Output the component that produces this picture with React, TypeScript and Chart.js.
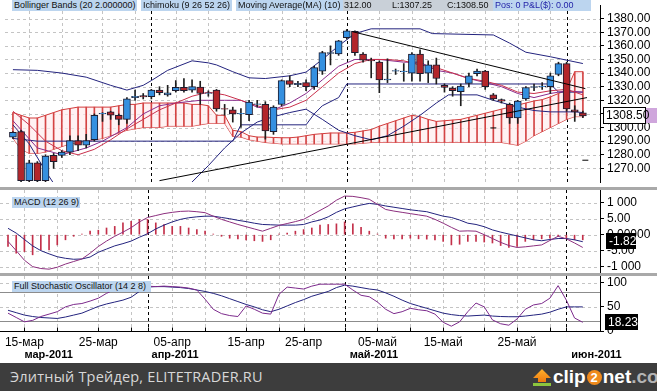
import React, { useEffect, useRef } from 'react';
import { Chart, registerables } from 'chart.js';

Chart.register(...registerables);

const FONT = '"Liberation Sans", Arial, sans-serif';
const CW = 657;
const AXIS_W = 57;
const X_MIN = -0.974;
const X_MAX = 72.1;

// ---------- data ----------
const dates = [
  '2011-03-13', '2011-03-14', '2011-03-15', '2011-03-16', '2011-03-17', '2011-03-18', '2011-03-20', '2011-03-21',
  '2011-03-22', '2011-03-23', '2011-03-24', '2011-03-25', '2011-03-27', '2011-03-28', '2011-03-29', '2011-03-30',
  '2011-03-31', '2011-04-01', '2011-04-03', '2011-04-04', '2011-04-05', '2011-04-06', '2011-04-07', '2011-04-08',
  '2011-04-10', '2011-04-11', '2011-04-12', '2011-04-13', '2011-04-14', '2011-04-15', '2011-04-17', '2011-04-18',
  '2011-04-19', '2011-04-20', '2011-04-21', '2011-04-24', '2011-04-25', '2011-04-26', '2011-04-27', '2011-04-28',
  '2011-04-29', '2011-05-01', '2011-05-02', '2011-05-03', '2011-05-04', '2011-05-05', '2011-05-06', '2011-05-08',
  '2011-05-09', '2011-05-10', '2011-05-11', '2011-05-12', '2011-05-13', '2011-05-15', '2011-05-16', '2011-05-17',
  '2011-05-18', '2011-05-19', '2011-05-20', '2011-05-22', '2011-05-23', '2011-05-24', '2011-05-25', '2011-05-26',
  '2011-05-27', '2011-05-29', '2011-05-30', '2011-05-31', '2011-06-01', '2011-06-02', '2011-06-03',
];

const opens = [1293, 1297, 1261, 1274, 1261, 1279.5, 1279.5, 1282, 1290.5, 1287, 1291, 1310, 1311.5, 1309, 1306, 1322, 1323.5, 1322.6, 1327.5, 1324, 1327, 1329.6, 1327.5, 1329.8, 1325, 1327.5, 1314, 1313, 1310, 1309.4, 1317, 1317, 1297, 1317, 1334.5, 1331.5, 1333, 1330, 1341.4, 1354.5, 1354, 1366, 1370.6, 1354, 1349.5, 1348, 1335, 1341.4, 1341, 1340, 1354, 1340, 1346, 1331, 1329, 1326.3, 1332.4, 1339.5, 1341.4, 1324, 1320.5, 1317, 1307, 1321, 1329.5, 1330, 1330, 1339, 1347, 1313, 1310.8];
const highs = [1297, 1298, 1276, 1275, 1280, 1281, 1283, 1294, 1294, 1295, 1310, 1311, 1312, 1310, 1322, 1327.5, 1325, 1328, 1330, 1331, 1334.5, 1336, 1335, 1334, 1327, 1328, 1317, 1315, 1314, 1320, 1320, 1319, 1316, 1335, 1338, 1334, 1335, 1345, 1356, 1360, 1364, 1372, 1371, 1355, 1351, 1349, 1350.5, 1343, 1347, 1355, 1357, 1349, 1351, 1332, 1330, 1332, 1340, 1343, 1342, 1325, 1321, 1318, 1320, 1330, 1332, 1333, 1340, 1348, 1348, 1316, 1312];
const lows = [1292, 1256, 1256, 1256, 1258, 1270, 1278, 1280, 1283, 1285, 1290, 1304.5, 1306, 1302, 1303, 1320, 1321, 1321, 1324, 1323, 1326, 1326, 1326, 1317, 1323, 1312, 1309, 1304, 1300, 1305, 1315, 1291.5, 1295, 1316, 1330, 1330, 1327, 1328, 1339, 1346, 1353, 1365, 1353, 1348, 1336.5, 1325.6, 1333, 1339, 1334, 1334, 1334, 1333, 1332, 1326, 1323, 1316, 1330, 1338, 1328, 1320, 1318, 1303, 1303, 1320, 1327, 1328, 1325, 1338, 1312, 1304.5, 1307.25];
const closes = [1296.5, 1261, 1274, 1261, 1279, 1275, 1282, 1290.5, 1287, 1290.5, 1309, 1310.5, 1309, 1306, 1321, 1323, 1322.5, 1327.5, 1325.6, 1325.5, 1329.6, 1327, 1330, 1325, 1325.5, 1313.6, 1313.5, 1310, 1310.5, 1318.7, 1317.5, 1297.6, 1315, 1334.5, 1331.7, 1332.5, 1330, 1344, 1355, 1355, 1363.6, 1371, 1355, 1349.5, 1349, 1335, 1335.5, 1341.9, 1341.5, 1354, 1339.5, 1346, 1336, 1329.4, 1327, 1330.5, 1338, 1341.4, 1330, 1321, 1319.4, 1307, 1319.4, 1329.4, 1330, 1330.5, 1338, 1347, 1313.6, 1311.5, 1308.5];

// Ichimoku cloud (Senkou spans), one value per bar
const spanA = [1311, 1309, 1307, 1307, 1309, 1311, 1313, 1314, 1315, 1315, 1315, 1315, 1315, 1316, 1317, 1317, 1318, 1318, 1318, 1318, 1318, 1318, 1317, 1317, 1316, 1309, 1309, 1298, 1297,
  1294, 1293, 1293, 1292.7, 1292.5, 1292.5, 1293, 1294, 1295, 1295.5, 1296, 1296, 1296, 1296.5, 1297.5, 1298.5, 1301, 1303, 1305, 1307, 1309, 1308, 1306, 1304.5, 1305, 1305.5, 1306, 1307.5, 1309, 1310.5, 1312, 1313.5, 1315, 1316.5, 1318, 1319.5, 1320.5, 1322.5, 1325, 1327.5, 1341, 1341];
const spanB = [1292, 1284, 1281, 1281, 1282, 1284, 1286, 1288, 1289, 1290, 1291, 1292, 1294, 1296, 1298, 1299, 1300, 1300, 1300, 1301, 1301, 1301, 1301, 1302, 1303, 1303, 1303, 1293.5, 1293,
  1291, 1290, 1289, 1288.5, 1288, 1288, 1288, 1288, 1288, 1288, 1288, 1288, 1288, 1288, 1288.5, 1289, 1289, 1289, 1289, 1289, 1289, 1289, 1289, 1289, 1289, 1289, 1289, 1289, 1289, 1289, 1289, 1289, 1288, 1287, 1290, 1294, 1297, 1300, 1303, 1306, 1308, 1308];

// indicator lines read at [bar, value]
const bbUpper: [number, number][] = [[0, 1342.5], [3, 1342], [6, 1340], [9, 1337], [12, 1331], [14, 1327.5], [16, 1331], [17, 1334.5], [19, 1342], [22, 1349], [24, 1347.5], [25, 1346], [27, 1341], [29, 1336.5], [31, 1336], [34, 1338], [36, 1340.7], [38, 1350], [40, 1360], [42, 1369], [44, 1372.5], [50, 1372.5], [51.5, 1369], [59, 1368], [61, 1362], [63, 1355.3], [66, 1352], [70, 1347]];
const bbLower: [number, number][] = [[0, 1302], [2, 1288], [4, 1268], [6, 1250], [10, 1240], [16, 1240], [20, 1250], [22, 1260], [24, 1272], [26, 1285], [28, 1296], [30, 1304], [32, 1308], [34, 1311], [36, 1313.5], [38, 1306], [40, 1298], [42, 1294], [44, 1291], [46, 1294], [48, 1301], [50, 1309], [52, 1318], [53.5, 1324], [57, 1324], [59, 1320], [62, 1315], [64, 1312.5], [66, 1311.5], [69, 1311.5], [70, 1311]];
const ma10: [number, number][] = [[0, 1312], [2, 1302], [4, 1290], [6, 1283], [8, 1280], [10, 1284], [12, 1291], [14, 1299], [16, 1306], [18, 1313], [20, 1318], [22, 1323], [24, 1326], [26, 1324], [28, 1320], [30, 1316], [32, 1313], [34, 1315], [36, 1320], [38, 1330], [40, 1340], [42, 1347], [44, 1350], [46, 1350], [48, 1349], [50, 1346], [52, 1344], [54, 1340], [56, 1336], [58, 1334], [60, 1331], [62, 1326], [64, 1325], [66, 1327], [68, 1328], [70, 1324]];
const tenkan: [number, number][] = [[0, 1305], [3, 1285], [6, 1280], [9, 1285], [11, 1290], [14, 1300], [16, 1310], [18, 1316], [20, 1318], [23, 1320], [26, 1320], [28, 1320], [30, 1315], [32, 1313], [34, 1318], [36, 1325], [38, 1335], [40, 1345], [42, 1350], [45, 1350], [48, 1348], [50, 1348], [52, 1342], [54, 1340], [56, 1336], [58, 1333], [60, 1330], [62, 1325], [64, 1322], [66, 1325], [68, 1327], [70, 1326]];
const kijun: [number, number][] = [[0, 1292], [3, 1290], [27, 1290], [28, 1302], [36, 1302], [37, 1310], [38, 1316], [40, 1322], [41, 1332], [66, 1332], [67, 1326], [70, 1326]];
const trendUp: [number, number][] = [[18, 1261], [70.5, 1322]];
const trendDown: [number, number][] = [[41.7, 1370.4], [70.3, 1328.6]];
const markers: [number, number][] = [[59, 1299.7], [70.3, 1276]];

// MACD (12 26 9)
const macdHist = [-3.7, -5.8, -5.3, -6.3, -4.8, -4.8, -3.2, -1.6, -0.5, 0.2, 1.1, 1.4, 2.1, 2.6, 3.7, 4.2, 4.8, 4.8, 3.7, 3.2, 2.6, 2.6, 2.1, 1.6, 1.1, 0.2, -0.5, -1.1, -1.3, -1.6, -1.9, -2.1, -1.6, 0.2, 0.5, 1.1, 1.6, 2.1, 3.0, 3.2, 3.4, 4.0, 3.4, 2.3, 1.1, 0.2, -1.1, -1.3, -1.3, -1.1, -1.3, -1.4, -1.6, -2.1, -3.2, -3.0, -2.1, -2.1, -2.3, -2.6, -3.4, -4.0, -3.7, -2.1, -1.6, -1.3, -1.1, -0.5, -1.1, -1.6, -1.6];
const macdLine = [-2.1, -5, -8, -10, -10.6, -10.8, -10.2, -9.2, -8.4, -7.6, -5.8, -3.7, -2, -0.5, 0.8, 2.2, 4, 5.4, 6, 6.6, 7, 7.3, 7.4, 7.2, 6.9, 5.8, 4.8, 4, 3.2, 2.5, 1.8, 1.1, 2, 2.9, 3.5, 4.1, 4.8, 6.2, 7.6, 9.0, 10.8, 12.1, 12, 11.6, 11.1, 9.5, 7.9, 7.4, 7, 6.6, 6.2, 5.8, 4.8, 3.6, 2.3, 1.1, 1.2, 1.1, 0, -1.2, -2.4, -3.4, -4.0, -3.8, -3.5, -3.2, -1.8, -0.5, -1.3, -2.6, -4];
const macdSignal = [2.0, 0.5, -1.5, -3.5, -5, -6, -6.9, -7.4, -7.7, -7.6, -7, -5.5, -4.5, -3.5, -2.8, -2, -0.8, 0.3, 1.8, 3, 4, 4.8, 5.3, 5.6, 5.8, 5.8, 5.4, 5, 4.5, 4.1, 3.6, 3.2, 3.1, 3.0, 3.0, 3.0, 3.2, 4, 4.6, 5.6, 7, 8.1, 8.7, 9.3, 9.8, 9.5, 9.0, 8.6, 8.2, 7.8, 7.5, 7.2, 6.5, 5.8, 5.4, 4.6, 3.6, 3.2, 2.5, 1.5, 0.8, 0.2, -0.4, -1.0, -1.6, -1.9, -1.5, -1.2, -1.2, -1.6, -2.2];

// Full Stochastic (14 2 8)
const stochK = [37, 28, 19, 22, 30, 35, 40, 50, 55, 57, 62, 68, 78, 86, 92, 95, 96, 93, 92, 93, 92, 91, 89, 85, 66, 45, 36, 32, 30, 52, 45, 37, 35, 76, 91, 89, 87, 93, 97, 97, 97, 97, 85, 74, 71, 60, 45, 36, 40, 47, 44, 42, 35, 18, 10, 19, 40, 58, 50, 23, 15, 12, 25, 45, 54, 57, 68, 94, 64, 27, 18];
const stochD = [43, 38, 33, 30, 28, 27, 26, 29, 33, 37, 44, 51, 56, 60, 64, 70, 82, 91, 92, 92, 91, 90, 88, 85, 82, 78, 73, 67, 61, 55, 50, 44, 40, 45, 52, 59, 65, 72, 77, 82, 90, 95, 93, 90, 87, 85, 79, 72, 64, 57, 52, 47, 42, 37, 34, 32, 31, 32, 33, 31, 30, 29.6, 29.6, 31, 33, 35, 39, 45, 50, 50, 50];

const priceTicks = [1270, 1280, 1290, 1300, 1310, 1320, 1330, 1340, 1350, 1360, 1370, 1380];
const macdTicks = [10, 5, 0, -5, -10];
const macdTickLabels = ['1 000', '5.00', '0.00000', '-5.00', '-1 000'];
const stochTicks = [0, 50, 100];
const stochBands = [80, 20];
const RU_MONTHS = ['янв', 'фев', 'мар', 'апр', 'май', 'июн', 'июл', 'авг', 'сен', 'окт', 'ноя', 'дек'];
const monthLabels = [
  { bar: 2, text: 'мар-2011', dx: 0 },
  { bar: 17, text: 'апр-2011', dx: 4 },
  { bar: 41, text: 'май-2011', dx: 5 },
  { bar: 68, text: 'июн-2011', dx: 5 },
];
const lastPrice = 1308.5;
const lastMacd = -1.82;
const lastStoch = 18.23;

// ---------- helpers ----------
const day = (i: number) => Number(dates[i].slice(8, 10));
const month = (i: number) => Number(dates[i].slice(5, 7));
const idx = dates.map((_, i) => i);
const monthStarts = idx.filter((i) => i > 0 && month(i) !== month(i - 1));
const gridBars = idx.filter((i) => day(i) % 5 === 0 && !monthStarts.includes(i));
const labelBars = idx.filter((i) => [5, 15, 25].includes(day(i)));
const perBar = (arr: number[]) => arr.map((y, x) => ({ x, y }));
const sparse = (arr: [number, number][]) => arr.map(([x, y]) => ({ x, y }));

const BLUE = '#3590e0';
const RED = '#b3262b';
const NAVY = '#23237e';
const CLOUD = '#d23c3c';

function seg(ctx: any, x1: number, y1: number, x2: number, y2: number) {
  ctx.beginPath();
  ctx.moveTo(x1, y1);
  ctx.lineTo(x2, y2);
  ctx.stroke();
}

function gridPlugin(hDashed: number[], hSolid: number[]) {
  return {
    id: 'panelGrid',
    beforeDatasetsDraw(chart: any) {
      const { ctx, chartArea: a, scales } = chart;
      const xs = scales.x;
      const ys = scales.y;
      ctx.save();
      ctx.lineWidth = 1;
      ctx.setLineDash([3, 3]);
      ctx.strokeStyle = '#c4c4c4';
      hDashed.forEach((v) => {
        const y = Math.round(ys.getPixelForValue(v)) + 0.5;
        seg(ctx, a.left, y, a.right, y);
      });
      gridBars.forEach((i) => {
        const x = Math.round(xs.getPixelForValue(i)) + 0.5;
        seg(ctx, x, a.top, x, a.bottom);
      });
      ctx.setLineDash([]);
      ctx.strokeStyle = '#8c8c8c';
      hSolid.forEach((v) => {
        const y = Math.round(ys.getPixelForValue(v)) + 0.5;
        seg(ctx, a.left, y, a.right, y);
      });
      ctx.setLineDash([3, 3]);
      ctx.strokeStyle = '#000';
      monthStarts.forEach((i) => {
        const x = Math.round(xs.getPixelForValue(i)) + 0.5;
        seg(ctx, x, a.top, x, a.bottom);
      });
      ctx.restore();
    },
  };
}

function valueBoxPlugin(value: number, text: string, dark: boolean, x0: number, w: number, h: number, extra?: boolean) {
  return {
    id: 'valueBox',
    afterDraw(chart: any) {
      const { ctx, scales } = chart;
      const yc = scales.y.getPixelForValue(value);
      const top = Math.round(yc - h / 2);
      ctx.save();
      if (extra) {
        ctx.fillStyle = '#cfa6dc';
        ctx.fillRect(x0 + w, top + 1, CW - x0 - w, h - 2);
      }
      ctx.fillStyle = dark ? '#000' : '#fff';
      ctx.fillRect(x0, top, w, h);
      if (!dark) {
        ctx.strokeStyle = '#000';
        ctx.lineWidth = 1;
        ctx.strokeRect(x0 + 0.5, top + 0.5, w - 1, h - 1);
      }
      ctx.fillStyle = dark ? '#fff' : '#000';
      ctx.font = `12px ${FONT}`;
      ctx.textAlign = 'left';
      ctx.textBaseline = 'middle';
      ctx.fillText(text, x0 + 3, top + h / 2 + 0.5);
      ctx.restore();
    },
  };
}

const xAxisPlugin = {
  id: 'dateAxis',
  afterDraw(chart: any) {
    const { ctx, chartArea: a, scales } = chart;
    const xs = scales.x;
    ctx.save();
    ctx.strokeStyle = '#000';
    ctx.lineWidth = 1;
    const yb = Math.round(a.bottom) + 0.5;
    seg(ctx, a.left, yb, a.right, yb);
    [...gridBars, ...monthStarts].forEach((i) => {
      const px = Math.round(xs.getPixelForValue(i)) + 0.5;
      seg(ctx, px, yb - 4, px, yb);
    });
    ctx.fillStyle = '#000';
    ctx.font = `12px ${FONT}`;
    ctx.textAlign = 'center';
    ctx.textBaseline = 'middle';
    labelBars.forEach((i) => {
      const t = `${String(day(i)).padStart(2, '0')}-${RU_MONTHS[month(i) - 1]}`;
      ctx.fillText(t, xs.getPixelForValue(i), a.bottom + 12);
    });
    ctx.font = `bold 11px ${FONT}`;
    ctx.textAlign = 'left';
    monthLabels.forEach((m) => ctx.fillText(m.text, xs.getPixelForValue(m.bar) + m.dx, a.bottom + 24));
    ctx.restore();
  },
};

function xScale() {
  return { type: 'linear', min: X_MIN, max: X_MAX, display: false, offset: false };
}

function yScale(min: number, max: number, ticks: number[], fmt: (v: number, i: number) => string) {
  return {
    type: 'linear',
    position: 'right',
    min,
    max,
    afterBuildTicks: (s: any) => {
      s.ticks = ticks.map((v) => ({ value: v }));
    },
    afterFit: (s: any) => {
      s.width = AXIS_W;
      s.paddingTop = 0;
      s.paddingBottom = 0;
    },
    ticks: {
      callback: (v: any, i: number) => fmt(Number(v), i),
      font: { family: FONT, size: 12 },
      color: '#000',
      padding: 3,
      autoSkip: false,
    },
    grid: { drawOnChartArea: false, drawTicks: true, tickLength: 4, color: '#000' },
    border: { display: true, color: '#000', width: 1 },
  };
}

const baseOptions = {
  responsive: false,
  animation: false,
  events: [],
  layout: { padding: 0 },
  plugins: { legend: { display: false }, tooltip: { enabled: false }, title: { display: false } },
};

function line(data: any[], color: string, order: number, width = 1, extra: any = {}) {
  return { type: 'line', data, borderColor: color, borderWidth: width, pointRadius: 0, tension: 0, fill: false, order, ...extra };
}

function priceConfig(): any {
  const up = closes.map((c, i) => c >= opens[i]);
  return {
    type: 'bar',
    data: {
      datasets: [
        line(perBar(spanA), CLOUD, 20, 1, { fill: '+1', backgroundColor: 'rgba(255,236,238,0.7)' }),
        line(perBar(spanB), CLOUD, 20),
        { type: 'bar', data: spanA.map((a, i) => ({ x: i, y: [a, spanB[i]] })), barThickness: 1, backgroundColor: '#d44444', grouped: false, order: 19 },
        line(sparse(kijun), NAVY, 12),
        line(sparse(bbUpper), NAVY, 12),
        line(sparse(bbLower), NAVY, 12),
        line(sparse(ma10), '#c9304c', 11),
        line(sparse(tenkan), '#8a2c8c', 11),
        { type: 'bar', data: idx.map((i) => ({ x: i, y: [lows[i], highs[i]] })), barThickness: 1, backgroundColor: '#1e1e1e', grouped: false, order: 6 },
        {
          type: 'bar',
          data: idx.map((i) => ({ x: i, y: [Math.min(opens[i], closes[i]), Math.max(opens[i], closes[i])] })),
          barThickness: 7,
          backgroundColor: up.map((u) => (u ? BLUE : RED)),
          borderColor: '#1c1c30',
          borderWidth: 1,
          borderSkipped: false,
          grouped: false,
          order: 5,
        },
        line(sparse(trendUp), '#000', 2),
        line(sparse(trendDown), '#000', 2),
        { type: 'line', data: sparse(markers), showLine: false, pointStyle: 'line', pointRadius: 3, borderColor: '#000', borderWidth: 1, order: 1 },
      ],
    },
    options: {
      ...baseOptions,
      scales: {
        x: xScale(),
        y: yScale(1260, 1390, priceTicks, (v) => v.toFixed(2)),
      },
    },
    plugins: [gridPlugin(priceTicks, []), valueBoxPlugin(lastPrice, lastPrice.toFixed(2), false, 603, 43, 17, true)],
  };
}

function macdConfig(): any {
  return {
    type: 'bar',
    data: {
      datasets: [
        { type: 'bar', data: perBar(macdHist), barThickness: 1, backgroundColor: '#c3304a', grouped: false, order: 5 },
        line(perBar(macdSignal), NAVY, 3),
        line(perBar(macdLine), '#8c2f7e', 2),
      ],
    },
    options: {
      ...baseOptions,
      scales: {
        x: xScale(),
        y: yScale(-12, 14, macdTicks, (_v, i) => macdTickLabels[i]),
      },
    },
    plugins: [gridPlugin(macdTicks, []), valueBoxPlugin(lastMacd, lastMacd.toFixed(2), true, 606, 30, 16)],
  };
}

function stochConfig(): any {
  return {
    type: 'line',
    data: {
      datasets: [line(perBar(stochD), NAVY, 3), line(perBar(stochK), '#7c2a8c', 2)],
    },
    options: {
      ...baseOptions,
      layout: { padding: { bottom: 32 } },
      scales: {
        x: xScale(),
        y: yScale(0, 114, stochTicks, (v) => String(v)),
      },
    },
    plugins: [gridPlugin([50, 100], stochBands), valueBoxPlugin(lastStoch, lastStoch.toFixed(2), true, 605, 33, 16), xAxisPlugin],
  };
}

const tag = (left: number, top: number, text: string, bg: string, width: number, color = '#111') => (
  <div
    style={{
      position: 'absolute',
      left,
      top,
      width,
      height: 11,
      lineHeight: '11px',
      fontSize: 9,
      fontFamily: FONT,
      background: bg,
      color,
      padding: '0 0 0 2px',
      whiteSpace: 'nowrap',
      overflow: 'hidden',
      boxSizing: 'border-box',
    }}
  >
    {text}
  </div>
);

export default function App() {
  const r1 = useRef<HTMLCanvasElement>(null);
  const r2 = useRef<HTMLCanvasElement>(null);
  const r3 = useRef<HTMLCanvasElement>(null);

  useEffect(() => {
    document.body.style.margin = '0';
    const charts = [
      new Chart(r1.current as HTMLCanvasElement, priceConfig()),
      new Chart(r2.current as HTMLCanvasElement, macdConfig()),
      new Chart(r3.current as HTMLCanvasElement, stochConfig()),
    ];
    return () => charts.forEach((c) => c.destroy());
  }, []);

  const LB = '#bcd5ef';
  return (
    <div style={{ position: 'relative', width: CW, height: 391, overflow: 'hidden', background: '#fff', fontFamily: FONT }}>
      <style>{'body{margin:0}'}</style>
      <canvas ref={r1} width={CW} height={187} style={{ position: 'absolute', left: 0, top: 0 }} />
      <div style={{ position: 'absolute', left: 0, top: 187, width: CW, height: 3, background: '#a9a9a9' }} />
      <canvas ref={r2} width={CW} height={83} style={{ position: 'absolute', left: 0, top: 190 }} />
      <div style={{ position: 'absolute', left: 0, top: 273, width: CW, height: 3, background: '#a9a9a9' }} />
      <canvas ref={r3} width={CW} height={87} style={{ position: 'absolute', left: 0, top: 276 }} />

      {tag(12, 0, 'Bollinger Bands (20 2.000000)', LB, 125)}
      {tag(141, 0, 'Ichimoku (9 26 52 26)', LB, 91)}
      {tag(236, 0, 'Moving Average(MA) (10)', LB, 107)}
      <div
        style={{
          position: 'absolute', left: 343, top: 0, width: 150, height: 11, background: '#c9d0d8',
          fontSize: 9, lineHeight: '11px', fontFamily: FONT, color: '#111', whiteSpace: 'nowrap',
        }}
      >
        <span style={{ position: 'absolute', left: 1 }}>312.00</span>
        <span style={{ position: 'absolute', left: 49 }}>L:1307.25</span>
        <span style={{ position: 'absolute', left: 104 }}>C:1308.50</span>
      </div>
      {tag(493, 0, 'Pos: 0 P&L($): 0.00', LB, 98, '#1f1fa6')}
      {tag(12, 197, 'MACD (12 26 9)', LB, 68)}
      {tag(12, 281, 'Full Stochastic Oscillator (14 2 8)', LB, 139)}

      <div style={{ position: 'absolute', left: 0, top: 363, width: CW, height: 28, background: '#3d3d3d' }}>
        <div
          style={{
            position: 'absolute', left: 10, top: 4, fontFamily: '"Open Sans", sans-serif', fontSize: 14.5,
            color: '#d8d8d8', lineHeight: '20px', letterSpacing: 0.2, whiteSpace: 'nowrap',
          }}
        >
          Элитный Трейдер, ELITETRADER.RU
        </div>
        <svg width={20} height={18} style={{ position: 'absolute', left: 532, top: 6 }}>
          <defs>
            <linearGradient id="arr" x1="0" y1="0" x2="0" y2="1">
              <stop offset="0" stopColor="#ffb12b" />
              <stop offset="1" stopColor="#f07a10" />
            </linearGradient>
          </defs>
          <polygon points="10,0 19,9 14,9 14,13 6,13 6,9 1,9" fill="url(#arr)" />
          <rect x={1} y={14} width={18} height={3} fill="#8cc63e" />
        </svg>
        <div
          style={{
            position: 'absolute', left: 553, top: 3, fontFamily: FONT, fontWeight: 'bold', fontSize: 19,
            color: '#fff', lineHeight: '22px', whiteSpace: 'nowrap',
          }}
        >
          clip
          <span
            style={{
              display: 'inline-block', width: 15, height: 15, borderRadius: '50%', background: '#f08a1c',
              color: '#fff', fontSize: 13, lineHeight: '15px', textAlign: 'center', verticalAlign: 'middle', margin: '0 1px',
            }}
          >
            2
          </span>
          net
          <span style={{ color: '#b4b4b4' }}>.com</span>
        </div>
      </div>
    </div>
  );
}
